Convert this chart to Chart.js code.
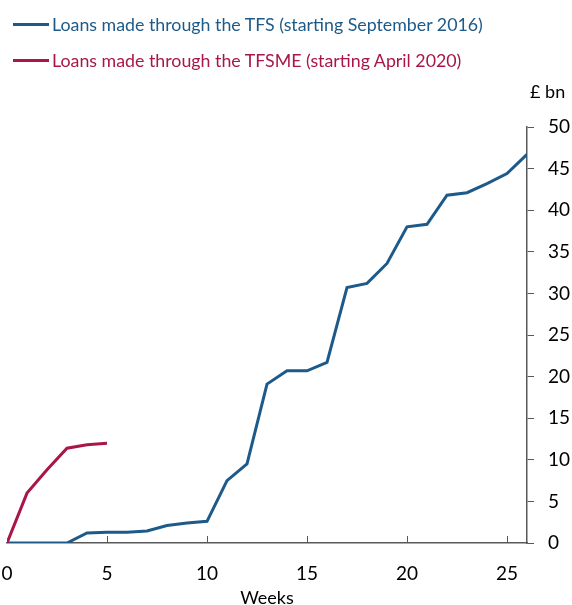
<!DOCTYPE html>
<html>
<head>
<meta charset="utf-8">
<script src="https://cdn.jsdelivr.net/npm/chart.js@4.4.0/dist/chart.umd.min.js"></script>
<style>
  body { margin: 0; background: #fff; }
  #wrap { position: relative; width: 572px; height: 605px; font-family: Lato, 'Open Sans', sans-serif; }
  canvas { position: absolute; left: 0; top: 0; }
  .leg { position: absolute; left: 13px; font-size: 17.8px; white-space: nowrap; display: flex; align-items: center; }
  .leg span.ln { display: inline-block; width: 36px; height: 3px; margin-right: 3px; }
  #unit { position: absolute; left: 530px; top: 80px; font-size: 18px; color: #000; }
</style>
</head>
<body>
<div id="wrap">
  <canvas id="chart" width="572" height="605"></canvas>
  <div class="leg" id="leg1" style="top:13px;color:#1d5a89"><span class="ln" style="background:#1d5a89"></span>Loans made through the TFS (starting September 2016)</div>
  <div class="leg" id="leg2" style="top:49px;color:#a8164b"><span class="ln" style="background:#a8164b"></span>Loans made through the TFSME (starting April 2020)</div>
  <div id="unit">£ bn</div>
</div>
<script>
const tfsWeeks = [0, 1, 2, 3, 4, 5, 6, 7, 8, 9, 10, 11, 12, 13, 14, 15, 16, 17, 18, 19, 20, 21, 22, 23, 24, 25, 26];
const tfsValues = [0, 0, 0, 0, 1.2, 1.3, 1.3, 1.45, 2.1, 2.4, 2.6, 7.5, 9.5, 19.1, 20.7, 20.7, 21.7, 30.7, 31.2, 33.6, 38.0, 38.3, 41.8, 42.1, 43.2, 44.4, 46.7];
const tfsmeWeeks = [0, 1, 2, 3, 4, 5];
const tfsmeValues = [0, 6.0, 8.8, 11.4, 11.8, 12.0];
const xTicks = [0, 5, 10, 15, 20, 25];

const blue = '#1d5a89';
const red = '#a8164b';
const axisGrey = '#595959';

// tick marks on the x axis point up into the plot, so draw them by hand
const inwardTicks = {
  id: 'inwardTicks',
  afterDraw(chart) {
    const ctx = chart.ctx;
    const x = chart.scales.x;
    const y0 = chart.chartArea.bottom;
    ctx.save();
    ctx.strokeStyle = axisGrey;
    ctx.lineWidth = 1;
    xTicks.forEach(t => {
      if (t === 0) return;
      const px = Math.round(x.getPixelForValue(t)) + 0.5;
      ctx.beginPath();
      ctx.moveTo(px, y0);
      ctx.lineTo(px, y0 - 7);
      ctx.stroke();
    });
    ctx.restore();
  }
};

new Chart(document.getElementById('chart'), {
  type: 'line',
  data: {
    datasets: [
      {
        label: 'TFSME',
        data: tfsmeWeeks.map((w, i) => ({ x: w, y: tfsmeValues[i] })),
        borderColor: red,
        borderWidth: 3,
        pointRadius: 0,
        tension: 0,
      },
      {
        label: 'TFS',
        data: tfsWeeks.map((w, i) => ({ x: w, y: tfsValues[i] })),
        borderColor: blue,
        borderWidth: 3,
        pointRadius: 0,
        tension: 0,
      },
    ]
  },
  options: {
    responsive: false,
    animation: false,
    layout: { padding: { top: 127, left: 7, bottom: 0, right: 0 } },
    plugins: { legend: { display: false }, tooltip: { enabled: false } },
    scales: {
      x: {
        type: 'linear',
        min: 0,
        max: 26,
        afterBuildTicks: s => { s.ticks = xTicks.map(v => ({ value: v })); },
        afterFit: s => { s.height = 62; s.paddingLeft = 0; s.paddingRight = 0; },
        grid: { drawOnChartArea: false, drawTicks: false },
        border: { color: axisGrey, width: 1.5 },
        ticks: { padding: 19, color: '#000', font: { family: 'Lato', size: 19 }, maxRotation: 0 },
        title: { display: true, text: 'Weeks', color: '#000', font: { family: 'Lato', size: 18, lineHeight: 0.8 }, padding: { top: 0, bottom: 0 } },
      },
      y: {
        position: 'right',
        min: 0,
        max: 50,
        afterFit: s => { s.width = 45; s.paddingTop = 0; s.paddingBottom = 0; },
        grid: { drawOnChartArea: false, drawTicks: true, tickLength: 7, color: axisGrey },
        border: { color: axisGrey, width: 1.5 },
        ticks: { stepSize: 5, padding: 14, color: '#000', font: { family: 'Lato', size: 19 } },
      }
    }
  },
  plugins: [inwardTicks]
});
</script>
</body>
</html>
